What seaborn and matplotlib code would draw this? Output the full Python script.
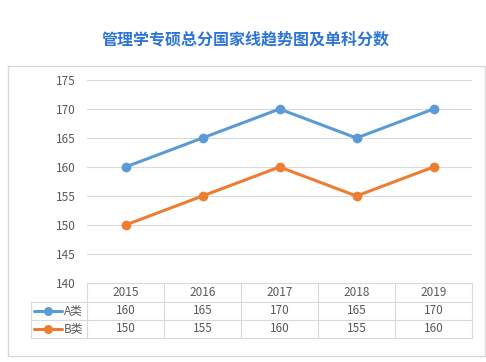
import pandas as pd
import matplotlib
matplotlib.use('Agg')
import matplotlib.pyplot as plt
import seaborn as sns
from matplotlib.lines import Line2D
from matplotlib.patches import Rectangle

# 데이터
years = ['2015', '2016', '2017', '2018', '2019']
series_names = ['A类', 'B类']
a_vals = [160, 165, 170, 165, 170]
b_vals = [150, 155, 160, 155, 160]
y_ticks = [140, 145, 150, 155, 160, 165, 170, 175]
title = '管理学专硕总分国家线趋势图及单科分数'

colors = ['#5b9bd5', '#ed7d31']
grid_c = '#d9d9d9'
txt_c = '#595959'

sns.set_theme(style='white')
plt.rcParams['font.family'] = ['Noto Sans CJK SC', 'DejaVu Sans']

df = pd.DataFrame({
    'year': years * 2,
    'x': list(range(len(years))) * 2,
    'value': a_vals + b_vals,
    'series': [series_names[0]] * len(years) + [series_names[1]] * len(years),
})

W, H = 486, 362
fig = plt.figure(figsize=(W / 100, H / 100), dpi=100)

def fx(px):
    return px / W

def fy(py):
    return 1 - py / H

# 바깥 테두리
fig.patches.append(Rectangle((fx(8), fy(356)), fx(485) - fx(8), fy(66) - fy(356),
                             transform=fig.transFigure, fill=False,
                             edgecolor=grid_c, linewidth=1))

fig.text(fx(246), fy(40), title, ha='center', va='center',
         fontsize=11.5, color='#2e75d6', fontweight='bold')

# 축
left, right, top, bottom = 87, 472, 80, 283
ax = fig.add_axes([fx(left), fy(bottom), fx(right) - fx(left), fy(top) - fy(bottom)])
ax.set_facecolor('none')
for yt in y_ticks[1:]:
    ax.axhline(yt, color=grid_c, linewidth=0.8, zorder=0)

sns.lineplot(data=df, x='x', y='value', hue='series', palette=colors,
             marker='o', markersize=7, markeredgewidth=0, linewidth=2.2,
             legend=False, ax=ax)
ax.set_xlim(-0.5, len(years) - 0.5)
ax.set_ylim(y_ticks[0], y_ticks[-1])
ax.set_yticks(y_ticks)
ax.set_yticklabels([str(t) for t in y_ticks], color=txt_c, fontsize=8.5)
ax.tick_params(axis='y', length=0, pad=8)
ax.set_xticks([])
ax.set_xlabel('')
ax.set_ylabel('')
for s in ax.spines.values():
    s.set_visible(False)

# 데이터 표
row_y = [283, 302, 320, 338]
col_x = [left + (right - left) * i / len(years) for i in range(len(years) + 1)]
lab_left = 31

def hline(x0, x1, y):
    fig.add_artist(Line2D([fx(x0), fx(x1)], [fy(y), fy(y)], color=grid_c, linewidth=0.8))

def vline(x, y0, y1):
    fig.add_artist(Line2D([fx(x), fx(x)], [fy(y0), fy(y1)], color=grid_c, linewidth=0.8))

hline(left, right, row_y[0])
for y in row_y[1:]:
    hline(lab_left, right, y)
for x in col_x:
    vline(x, row_y[0], row_y[-1])
vline(lab_left, row_y[1], row_y[-1])

for i, yr in enumerate(years):
    cx = (col_x[i] + col_x[i + 1]) / 2
    fig.text(fx(cx), fy((row_y[0] + row_y[1]) / 2), yr, ha='center', va='center',
             fontsize=8.5, color=txt_c)
    for r, vals in enumerate([a_vals, b_vals]):
        fig.text(fx(cx), fy((row_y[r + 1] + row_y[r + 2]) / 2), str(vals[i]),
                 ha='center', va='center', fontsize=8.5, color=txt_c)

for r, name in enumerate(series_names):
    cy = fy((row_y[r + 1] + row_y[r + 2]) / 2)
    fig.add_artist(Line2D([fx(34), fx(62)], [cy, cy], color=colors[r], linewidth=2.2))
    fig.add_artist(Line2D([fx(48)], [cy], color=colors[r], marker='o',
                          markersize=6.5, markeredgewidth=0))
    fig.text(fx(64), cy, name, ha='left', va='center', fontsize=8.5, color=txt_c)

fig.savefig('out.png', dpi=100)
